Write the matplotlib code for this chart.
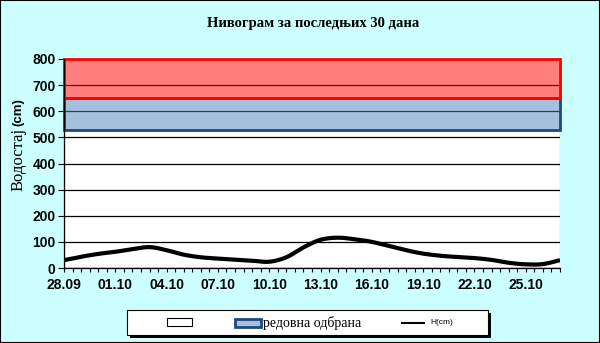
import numpy as np
import pandas as pd
import matplotlib.pyplot as plt
from matplotlib.patches import Rectangle
from matplotlib.lines import Line2D

# water level, cm, one value a day from 28.09
dates = pd.date_range('2023-09-28', periods=30).strftime('%d.%m')
level = [30, 43, 54, 62, 72, 80, 68, 51, 41, 36,
         32, 28, 24, 41, 79, 108, 116, 110, 100, 84,
         68, 55, 47, 42, 38, 31, 20, 14, 15, 30]

white_top = 530   # below regular defence
regular_top = 650  # редовна одбрана
emergency_top = 800

W, H = 600, 343


def smooth(x, y, n=12):
    # catmull-rom, close to excel's smoothed line
    x = np.asarray(x, float)
    y = np.asarray(y, float)
    px = np.r_[2*x[0]-x[1], x, 2*x[-1]-x[-2]]
    py = np.r_[2*y[0]-y[1], y, 2*y[-1]-y[-2]]
    xs, ys = [], []
    t = np.linspace(0, 1, n, endpoint=False)
    for i in range(1, len(px)-2):
        for p, out in ((px, xs), (py, ys)):
            p0, p1, p2, p3 = p[i-1], p[i], p[i+1], p[i+2]
            out.extend(0.5*((2*p1) + (-p0+p2)*t + (2*p0-5*p1+4*p2-p3)*t**2
                            + (-p0+3*p1-3*p2+p3)*t**3))
    xs.append(x[-1])
    ys.append(y[-1])
    return np.array(xs), np.array(ys)


def box(x0, y0, x1, y1, **kw):
    # rectangle in pixel coords, y measured from the top
    return Rectangle((x0/W, 1-y1/H), (x1-x0)/W, (y1-y0)/H,
                     transform=fig.transFigure, **kw)


fig = plt.figure(figsize=(6, 3.43), dpi=100, facecolor='#CCFFFF')
fig.patches.append(box(0, 0, W, H, fill=False, edgecolor='black', lw=1.5))
ax = fig.add_axes([64/W, 75/H, 496/W, 209/H])
ax.set_facecolor('white')

x = np.arange(len(level))
xmax = len(level) - 1
ax.set_xlim(0, xmax)
ax.set_ylim(0, 800)

ax.add_patch(Rectangle((0, 0), xmax, white_top, facecolor='white',
                       edgecolor='black', lw=0.8, zorder=0.2))
ax.grid(axis='y', color='black', lw=0.9)
ax.set_axisbelow(True)
ax.add_patch(Rectangle((0, white_top), xmax, regular_top-white_top,
                       facecolor=(0.31, 0.506, 0.741, 0.5),
                       edgecolor='#1F497D', lw=2, zorder=1, clip_on=False))
ax.add_patch(Rectangle((0, regular_top), xmax, emergency_top-regular_top,
                       facecolor=(1, 0, 0, 0.5),
                       edgecolor='red', lw=2, zorder=1.1, clip_on=False))

sx, sy = smooth(x, level)
ax.plot(sx, sy, color='black', lw=3, zorder=3, solid_capstyle='butt')

for s in ['top', 'right']:
    ax.spines[s].set_visible(False)
ax.spines['left'].set_linewidth(0.9)
ax.spines['bottom'].set_linewidth(0.9)

ax.set_yticks(range(0, 801, 100))
ax.set_xticks(x[::3])
ax.set_xticklabels(dates[::3])
ax.set_xticks(np.arange(0, xmax + 0.01, 0.5), minor=True)
ax.tick_params(axis='x', which='both', length=3, width=0.8, pad=4)
ax.tick_params(axis='y', length=4, width=0.8, pad=2)
for lab in ax.get_xticklabels() + ax.get_yticklabels():
    lab.set_fontfamily('Liberation Sans')
    lab.set_fontweight('bold')
    lab.set_fontsize(10)

fig.text(0.5217, 0.932, 'Нивограм за последњих 30 дана', ha='center',
         va='center', family='Liberation Serif', weight='bold', size=10.5)
fig.text(0.031, 0.628, 'Водостај', rotation=90, ha='center', va='top',
         family='Liberation Serif', size=12)
fig.text(0.031, 0.634, '(cm)', rotation=90, ha='center', va='bottom',
         family='Liberation Sans', weight='bold', size=9.5)

# legend, drawn by hand to match the excel layout
fig.patches.append(box(130, 313, 491, 338, facecolor='black', lw=0))
fig.patches.append(box(127, 310, 488, 335, facecolor='white',
                       edgecolor='black', lw=0.8))
fig.patches.append(box(167, 318, 192, 326, facecolor='white',
                       edgecolor='black', lw=0.8))
fig.patches.append(box(235, 319, 261, 327, facecolor='#A8BFDE',
                       edgecolor='#1F497D', lw=2))
fig.lines.append(Line2D([402/W, 424/W], [1-323/H, 1-323/H],
                        transform=fig.transFigure, color='black', lw=1.5))
fig.text(263/W, 1-323/H, 'редовна одбрана', ha='left', va='center',
         family='Liberation Serif', size=10)
fig.text(430/W, 1-323/H, 'H(cm)', ha='left', va='center',
         family='Liberation Sans', size=6)

fig.savefig('out.png', dpi=100, facecolor=fig.get_facecolor())
